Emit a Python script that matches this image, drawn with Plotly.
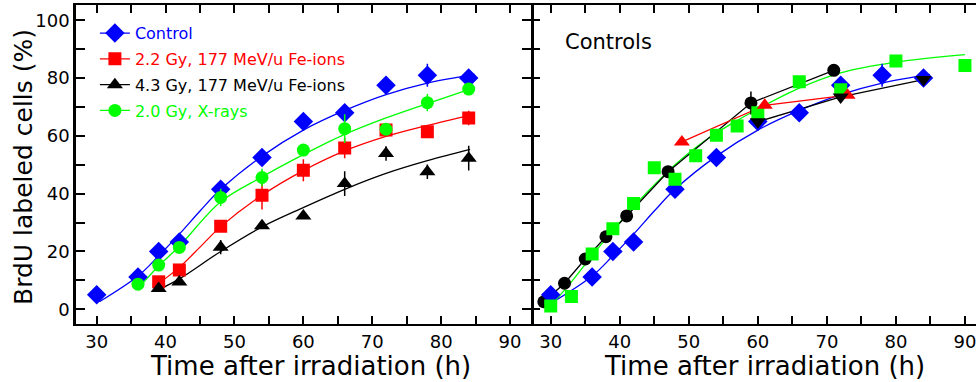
import plotly.graph_objects as go

# ---------------- data ----------------
# Left panel: measured points
t_ctrl = [30, 36, 39, 42, 48, 54, 60, 66, 72, 78, 84]
y_ctrl = [5, 11.2, 20, 23.3, 41.5, 52.5, 65, 68, 77.5, 81, 80]
e_ctrl = [0, 0, 0, 0, 0, 0, 0, 0, 0, 4, 0]

t_fe22 = [39, 42, 48, 54, 60, 66, 72, 78, 84]
y_fe22 = [9.5, 13.6, 28.7, 39.5, 48.1, 55.8, 62, 61.4, 66.2]
e_fe22 = [2, 0, 0, 5, 3.8, 3.5, 0, 0, 2.5]

t_fe43 = [39, 42, 48, 54, 60, 66, 72, 78, 84]
y_fe43 = [7.2, 9.4, 21.5, 28.9, 32.3, 43.5, 53.9, 47.6, 52.3]
e_fe43 = [0, 0, 2.5, 0, 0, 4.3, 2.5, 2.5, 4.3]

t_xray = [36, 39, 42, 48, 54, 60, 66, 72, 78, 84]
y_xray = [8.7, 15.3, 21.4, 38.7, 45.6, 55.1, 62.5, 62.3, 71.5, 76.2]
e_xray = [0, 0, 0, 3, 3, 0, 5, 0, 3, 0]

# Left panel: fitted curves
fit_ctrl_t = [30.4, 36, 39, 42, 45, 48, 54, 60, 66, 72, 78, 84.9]
fit_ctrl_y = [2.6, 11.5, 18.5, 26, 34, 41.5, 53, 62, 68.8, 74.3, 78.3, 81.3]
fit_fe22_t = [39.2, 42, 45, 48, 54, 60, 66, 72, 78, 84.2]
fit_fe22_y = [9.3, 14.5, 21.5, 28.6, 39.5, 48, 54.8, 59.8, 63.6, 67.2]
fit_fe43_t = [39.2, 42, 48, 54, 60, 66, 72, 78, 84.2]
fit_fe43_y = [7, 10.5, 20, 28.5, 35.2, 41.5, 47, 51.4, 55.3]
fit_xray_t = [36.2, 39, 42, 48, 54, 60, 66, 72, 78, 84.2]
fit_xray_y = [7.8, 15, 21.8, 37.2, 45.8, 53.5, 60.5, 66.2, 71.2, 76.2]

# Right panel ("Controls")
t_circ = [29, 32, 35, 38, 41, 47, 59, 71]
y_circ = [2.6, 9, 17.4, 25.1, 32.3, 47.6, 71.4, 82.7]
e_circ = [0, 0, 0, 0, 0, 0, 4, 0]

t_sq = [30, 33, 36, 39, 42, 45, 48, 51, 54, 57, 60, 66, 72, 80, 90]
y_sq = [1.1, 4.4, 19.1, 27.9, 36.6, 49, 45, 53.1, 60.2, 63.4, 68, 78.7, 76, 85.9, 84.4]

t_tri = [49, 61, 73]
y_tri = [57.9, 70.6, 74.1]

t_dtri = [60, 72, 84]
y_dtri = [64.9, 73.5, 79.5]

fit_sq_t = [30.3, 33, 36, 39, 42, 45, 48, 51, 54, 57, 60, 66, 72, 80, 90]
fit_sq_y = [2, 9.5, 18.6, 27.2, 35.5, 43, 50, 56, 61, 65.3, 69.3, 76.5, 81.8, 85.5, 88.1]

legend_names = ["Control", "2.2 Gy, 177 MeV/u Fe-ions",
                "4.3 Gy, 177 MeV/u Fe-ions", "2.0 Gy, X-rays"]
x_ticks = [30, 35, 40, 45, 50, 55, 60, 65, 70, 75, 80, 85, 90]
x_ticktext = ["30", "", "40", "", "50", "", "60", "", "70", "", "80", "", "90"]
y_ticks = [0, 10, 20, 30, 40, 50, 60, 70, 80, 90, 100]
y_ticktext = ["0", "", "20", "", "40", "", "60", "", "80", "", "100"]

# ---------------- styles ----------------
BLUE, RED, BLACK, GREEN = "#0000ff", "#ff0000", "#000000", "#00ff00"
FONT = "DejaVu Sans"
LW = 1.3

fig = go.Figure()


def curve(x, y, color, xa="x", ya="y", shape="spline"):
    fig.add_trace(go.Scatter(x=x, y=y, mode="lines", xaxis=xa, yaxis=ya,
                             line=dict(color=color, width=LW, shape=shape),
                             showlegend=False, hoverinfo="skip"))


def points(x, y, color, symbol, size, err=None, xa="x", ya="y"):
    kw = {}
    if err is not None:
        kw["error_y"] = dict(type="data", array=err, visible=True, width=0,
                             thickness=1.5, color=color)
    fig.add_trace(go.Scatter(x=x, y=y, mode="markers", xaxis=xa, yaxis=ya,
                             marker=dict(color=color, symbol=symbol, size=size,
                                         line=dict(width=0)),
                             showlegend=False, **kw))


# left panel curves
curve(fit_ctrl_t, fit_ctrl_y, BLUE)
curve(fit_fe22_t, fit_fe22_y, RED)
curve(fit_fe43_t, fit_fe43_y, BLACK)
curve(fit_xray_t, fit_xray_y, GREEN)
# left panel points
points(t_ctrl, y_ctrl, BLUE, "diamond", 15, e_ctrl)
points(t_fe22, y_fe22, RED, "square", 13, e_fe22)
points(t_fe43, y_fe43, BLACK, "triangle-up", 14, e_fe43)
points(t_xray, y_xray, GREEN, "circle", 13, e_xray)

# right panel
curve(fit_ctrl_t, fit_ctrl_y, BLUE, "x2", "y2")
curve(fit_sq_t, fit_sq_y, GREEN, "x2", "y2")
curve(t_circ, y_circ, BLACK, "x2", "y2", "linear")
curve(t_tri, y_tri, RED, "x2", "y2", "linear")
curve(t_dtri, y_dtri, BLACK, "x2", "y2", "linear")
points(t_circ, y_circ, BLACK, "circle", 13, e_circ, "x2", "y2")
points(t_ctrl, y_ctrl, BLUE, "diamond", 15, e_ctrl, "x2", "y2")
points(t_sq, y_sq, GREEN, "square", 13, None, "x2", "y2")
points(t_tri, y_tri, RED, "triangle-up", 14, None, "x2", "y2")
points(t_dtri, y_dtri, BLACK, "triangle-down", 14, None, "x2", "y2")

# legend entries
leg = [(BLUE, "diamond", 15), (RED, "square", 13),
       (BLACK, "triangle-up", 14), (GREEN, "circle", 13)]
for i, ((c, s, sz), nm) in enumerate(zip(leg, legend_names)):
    fig.add_trace(go.Scatter(
        x=[None], y=[None], mode="lines+markers", xaxis="x", yaxis="y",
        line=dict(color=c, width=LW), marker=dict(color=c, symbol=s, size=sz),
        name=f"<span style='color:{c}'>{nm}</span>", legendgroup=f"g{i}"))

D = (530.7 - 76) / 900.0
tickfont = dict(family=FONT, size=18, color="black")
xcommon = dict(showline=True, linecolor="black", linewidth=2, mirror="ticks",
               ticks="inside", ticklen=8, tickwidth=2, tickcolor="black",
               tickvals=x_ticks, ticktext=x_ticktext, tickfont=tickfont,
               ticklabeloverflow="allow",
               showgrid=False, zeroline=False)
ycommon = dict(linecolor="black", linewidth=2.5,
               ticks="inside", ticklen=9, tickwidth=2, tickcolor="black",
               tickvals=y_ticks, ticktext=y_ticktext, tickfont=tickfont,
               showgrid=False, zeroline=False, range=[-5.1, 105.3])

fig.update_layout(
    width=976, height=382, autosize=False,
    margin=dict(l=76, r=0, t=5, b=58, pad=0),
    paper_bgcolor="white", plot_bgcolor="white",
    font=dict(family=FONT, color="black"),
    xaxis=dict(domain=[0, D], range=[27.0, 93.0], anchor="y", **xcommon),
    xaxis2=dict(domain=[D, 1], range=[27.1, 91.6], anchor="y2", **xcommon),
    yaxis=dict(domain=[0, 1], anchor="x", mirror="ticks", showline=True,
               **ycommon),
    yaxis2=dict(domain=[0, 1], anchor="x2", mirror=False, showline=False,
                showticklabels=False, **ycommon),
    legend=dict(x=0.021, y=0.965, xanchor="left", yanchor="top",
                bgcolor="rgba(0,0,0,0)", borderwidth=0,
                font=dict(family=FONT, size=16), tracegroupgap=2,
                itemwidth=30),
    showlegend=True,
    annotations=[
        dict(text="Controls", xref="x2", yref="y2", x=31.8, y=92.4,
             xanchor="left", yanchor="middle", showarrow=False,
             font=dict(family=FONT, size=21, color="black")),
        dict(text="Time after irradiation (h)", xref="paper", yref="paper",
             x=(310 - 76) / 900, y=(324 - 366) / 319, xanchor="center",
             yanchor="middle", showarrow=False,
             font=dict(family=FONT, size=26, color="black")),
        dict(text="Time after irradiation (h)", xref="paper", yref="paper",
             x=(764 - 76) / 900, y=(324 - 366) / 319, xanchor="center",
             yanchor="middle", showarrow=False,
             font=dict(family=FONT, size=26, color="black")),
        dict(text="BrdU labeled cells (%)", xref="paper", yref="paper",
             x=(23 - 76) / 900, y=(324 - 167) / 319, xanchor="center",
             yanchor="middle", textangle=-90, showarrow=False,
             font=dict(family=FONT, size=25, color="black")),
    ],
)

fig.write_html("out.html")
